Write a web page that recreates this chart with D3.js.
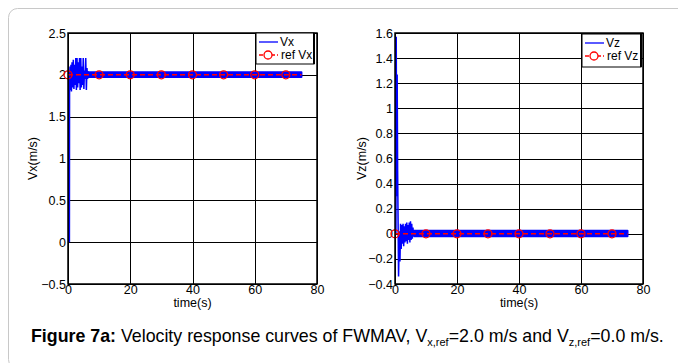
<!DOCTYPE html>
<meta charset="utf-8">
<html>
<head>
<title>Figure 7a</title>
<style>
body { margin: 0; background: #fff; }
text { font-family: "Liberation Sans", Arial, sans-serif; }
.grid line { stroke: #000; stroke-width: 1; shape-rendering: crispEdges; }
.grid path { display: none; }
.axlabel { font-size: 12.5px; }
.leg { font-size: 12px; }
.caption { font-family: "Liberation Sans", Arial, sans-serif; font-size: 17.8px; }
</style>
</head>
<body>
<svg id="chart" width="678" height="363"></svg>
<script src="https://d3js.org/d3.v7.min.js"></script>
<script>

// ---- data ----
var refTimes = [0, 10, 20, 30, 40, 50, 60, 70];
var refEnd = 75;

// Vx transient (start-up + early oscillation)
var vxTime = [0.45, 0.5, 0.65, 0.8, 0.95, 1.1, 1.3, 1.5, 1.7, 1.9, 2.1, 2.3, 2.5, 2.7, 2.9, 3.1, 3.3, 3.5,
              3.7, 3.9, 4.1, 4.3, 4.5, 4.7, 4.9, 5.1, 5.3, 5.5, 5.7, 5.9, 6.1, 6.3, 6.5, 6.7];
var vxValue = [0, 1.95, 2.1, 1.82, 2.12, 1.8, 2.15, 1.85, 2.18, 1.83, 2.12, 1.88, 2.2, 1.82, 2.2, 1.85, 2.15, 1.9,
               2.2, 1.82, 2.2, 1.85, 2.1, 1.88, 2.2, 1.83, 2.05, 1.95, 2.2, 1.82, 2.08, 1.95, 2.04, 2.0];
// Vx steady chatter band
var vxBandTime = [6.4, 75];
var vxBandLow = [1.975, 1.975];
var vxBandHigh = [2.03, 2.03];
var vxRef = 2.0;

// Vz transient
var vzTime = [0.3, 0.4, 0.55, 0.7, 0.85, 1.15, 1.4, 1.6, 1.8, 2.0, 2.2, 2.4, 2.6, 2.8, 3.0, 3.2,
              3.4, 3.6, 3.8, 4.0, 4.2, 4.4, 4.6, 4.8, 5.0, 5.2, 5.4, 5.6, 5.8, 6.0, 6.2, 6.4];
var vzValue = [0, 1.57, 0.3, 1.27, 0.5, -0.34, 0.02, -0.22, 0.08, -0.12, 0.07, -0.08, 0.08, -0.1, 0.06, -0.07,
               0.08, -0.06, 0.09, -0.08, 0.07, -0.05, 0.09, -0.07, 0.1, -0.05, 0.08, -0.04, 0.05, -0.02, 0.03, 0.0];
var vzBandTime = [6.2, 75];
var vzBandLow = [-0.02, -0.02];
var vzBandHigh = [0.025, 0.025];
var vzRef = 0.0;

var xTicks = [0, 20, 40, 60, 80];
var vxTicks = [-0.5, 0, 0.5, 1, 1.5, 2, 2.5];
var vzTicks = [-0.4, -0.2, 0, 0.2, 0.4, 0.6, 0.8, 1, 1.2, 1.4, 1.6];

var svg = d3.select("#chart");

// light frame around the figure
svg.append("rect")
  .attr("x", 8.5).attr("y", 8.5)
  .attr("width", 700).attr("height", 360)
  .attr("rx", 9)
  .attr("fill", "none")
  .attr("stroke", "#c8c8c8");

function panel(p) {
  var x = d3.scaleLinear().domain([0, 80]).range([p.left, p.right]);
  var y = d3.scaleLinear().domain(p.domain).range([p.bottom, p.top]);
  var w = p.right - p.left, h = p.bottom - p.top;

  // grid + tick labels
  svg.append("g")
    .attr("class", "grid")
    .attr("transform", "translate(0," + p.bottom + ")")
    .call(d3.axisBottom(x).tickValues(xTicks).tickSizeInner(-h).tickSizeOuter(0).tickPadding(1))
    .selectAll("text").style("font-size", "12.5px").style("fill", "#000");
  svg.append("g")
    .attr("class", "grid")
    .attr("transform", "translate(" + p.left + ",0)")
    .call(d3.axisLeft(y).tickValues(p.ticks).tickSizeInner(-w).tickSizeOuter(0).tickPadding(2)
      .tickFormat(d3.format("")))
    .selectAll("text").style("font-size", "12.5px").style("fill", "#000");

  // chatter band
  var bandData = p.bandTime.map(function(t, i) { return {t: t, lo: p.bandLow[i], hi: p.bandHigh[i]}; });
  svg.append("path")
    .datum(bandData)
    .attr("fill", "#0000ff")
    .attr("stroke", "#0000ff")
    .attr("stroke-width", 2)
    .attr("stroke-linejoin", "round")
    .attr("d", d3.area().x(function(d) { return x(d.t); })
      .y0(function(d) { return y(d.lo); }).y1(function(d) { return y(d.hi); }));

  // transient response
  var resp = p.time.map(function(t, i) { return [t, p.value[i]]; });
  svg.append("path")
    .datum(resp)
    .attr("fill", "none")
    .attr("stroke", "#0000ff")
    .attr("stroke-width", 1.5)
    .attr("d", d3.line().x(function(d) { return x(d[0]); }).y(function(d) { return y(d[1]); }));

  // reference (red dashed + circles)
  svg.append("line")
    .attr("x1", x(0)).attr("x2", x(refEnd))
    .attr("y1", y(p.ref)).attr("y2", y(p.ref))
    .attr("stroke", "#ff0000").attr("stroke-width", 1.5)
    .attr("stroke-dasharray", "5,3");
  svg.append("g")
    .selectAll("circle")
    .data(refTimes)
    .enter()
    .append("circle")
      .attr("cx", function(d) { return x(d); })
      .attr("cy", y(p.ref))
      .attr("r", 4)
      .attr("fill", "none")
      .attr("stroke", "#ff0000")
      .attr("stroke-width", 1.3);

  // axes box
  svg.append("rect")
    .attr("x", p.left).attr("y", p.top)
    .attr("width", w).attr("height", h)
    .attr("fill", "none").attr("stroke", "#000").attr("stroke-width", 1.5);

  // labels
  svg.append("text")
    .attr("class", "axlabel")
    .attr("x", (p.left + p.right) / 2).attr("y", p.bottom + 23)
    .style("text-anchor", "middle")
    .text("time(s)");
  svg.append("text")
    .attr("class", "axlabel")
    .attr("transform", "translate(" + p.ylabX + "," + ((p.top + p.bottom) / 2) + ") rotate(-90)")
    .style("text-anchor", "middle")
    .text(p.ylab);

  // legend
  var L = p.leg;
  svg.append("rect")
    .attr("x", L.x).attr("y", L.y).attr("width", L.w).attr("height", L.h)
    .attr("fill", "#fff").attr("stroke", "#000").attr("stroke-width", 1);
  svg.append("line")
    .attr("x1", L.x + L.w).attr("x2", L.x + L.w).attr("y1", L.y).attr("y2", L.y + L.h)
    .attr("stroke", "#000").attr("stroke-width", 2);
  svg.append("line")
    .attr("x1", L.x + 3).attr("x2", L.x + 22).attr("y1", L.y + 9).attr("y2", L.y + 9)
    .attr("stroke", "#0000ff").attr("stroke-width", 1.3);
  svg.append("text").attr("class", "leg")
    .attr("x", L.x + 24).attr("y", L.y + 13).text(p.name);
  svg.append("line")
    .attr("x1", L.x + 3).attr("x2", L.x + 22).attr("y1", L.y + 22).attr("y2", L.y + 22)
    .attr("stroke", "#ff0000").attr("stroke-width", 1.3).attr("stroke-dasharray", "4,2");
  svg.append("circle")
    .attr("cx", L.x + 12).attr("cy", L.y + 22).attr("r", 4)
    .attr("fill", "#fff").attr("stroke", "#ff0000").attr("stroke-width", 1.3);
  svg.append("text").attr("class", "leg")
    .attr("x", L.x + 25).attr("y", L.y + 26).text("ref " + p.name);
}

panel({left: 68, right: 317, top: 33, bottom: 284, domain: [-0.5, 2.5], ticks: vxTicks,
       time: vxTime, value: vxValue, bandTime: vxBandTime, bandLow: vxBandLow, bandHigh: vxBandHigh,
       ref: vxRef, name: "Vx", ylab: "Vx(m/s)", ylabX: 37,
       leg: {x: 256, y: 33, w: 58, h: 31}});

panel({left: 395, right: 643, top: 33, bottom: 284, domain: [-0.4, 1.6], ticks: vzTicks,
       time: vzTime, value: vzValue, bandTime: vzBandTime, bandLow: vzBandLow, bandHigh: vzBandHigh,
       ref: vzRef, name: "Vz", ylab: "Vz(m/s)", ylabX: 366,
       leg: {x: 582, y: 34, w: 59, h: 33}});

// caption
var cap = svg.append("text").attr("class", "caption").attr("x", 31).attr("y", 342);
cap.append("tspan").style("font-weight", "bold").text("Figure 7a:");
cap.append("tspan").text(" Velocity response curves of FWMAV, V");
cap.append("tspan").attr("dy", 4).style("font-size", "11px").text("x,ref");
cap.append("tspan").attr("dy", -4).text("=2.0 m/s and V");
cap.append("tspan").attr("dy", 4).style("font-size", "11px").text("z,ref");
cap.append("tspan").attr("dy", -4).text("=0.0 m/s.");

</script>
</body>
</html>
